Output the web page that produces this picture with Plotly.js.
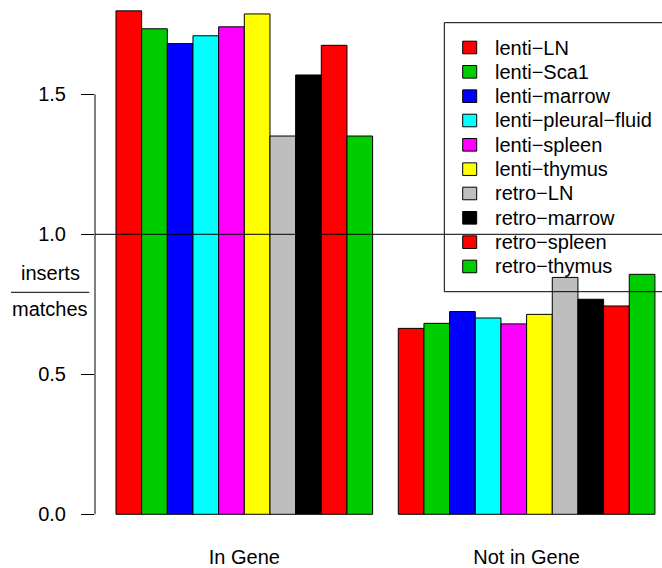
<!DOCTYPE html>
<html>
<head>
<meta charset="utf-8">
<script src="https://cdn.plot.ly/plotly-3.0.1.min.js"></script>
<style>
  html, body { margin: 0; padding: 0; background: #ffffff; }
  #chart { width: 662px; height: 568px; }
</style>
</head>
<body>
<div id="chart"></div>
<script>
// Ratio of inserts to matches, per vector/tissue library, split by gene overlap
const categories = ["In Gene", "Not in Gene"];
const seriesNames = [
  "lenti\u2212LN", "lenti\u2212Sca1", "lenti\u2212marrow", "lenti\u2212pleural\u2212fluid",
  "lenti\u2212spleen", "lenti\u2212thymus", "retro\u2212LN", "retro\u2212marrow",
  "retro\u2212spleen", "retro\u2212thymus"
];
const seriesColors = [
  "#FF0000", "#00CD00", "#0000FF", "#00FFFF", "#FF00FF",
  "#FFFF00", "#BEBEBE", "#000000", "#FF0000", "#00CD00"
];
const inGene    = [1.798, 1.734, 1.681, 1.709, 1.741, 1.787, 1.351, 1.569, 1.675, 1.351];
const notInGene = [0.664, 0.682, 0.724, 0.701, 0.680, 0.714, 0.846, 0.768, 0.744, 0.857];
const yTicks = [0, 0.5, 1.0, 1.5];
const referenceLevel = 1.0;

// Page geometry (pixels)
const W = 662, H = 568;
const M = { l: 95, r: 0, t: 0, b: 34 };
const plotW = W - M.l - M.r, plotH = H - M.t - M.b;
const px = p => (p - M.l) / plotW;          // pixel x -> paper x
const py = p => (H - M.b - p) / plotH;      // pixel y -> paper y

const FONT = "Liberation Sans, Arial, Helvetica, sans-serif";

const traces = seriesNames.map((name, i) => ({
  type: "bar",
  name: name,
  x: categories,
  y: [inGene[i], notInGene[i]],
  marker: { color: seriesColors[i], line: { color: "#000000", width: 1 } },
  showlegend: false,
  hoverinfo: "skip"
}));

const shapes = [];
const annotations = [];

// y axis line spanning the labelled ticks only
shapes.push({
  type: "line", xref: "paper", yref: "y",
  x0: 0, x1: 0, y0: yTicks[0], y1: yTicks[yTicks.length - 1],
  line: { color: "#000000", width: 1 }
});

// horizontal reference line at ratio 1
shapes.push({
  type: "line", xref: "paper", yref: "y", layer: "above",
  x0: 0, x1: 1, y0: referenceLevel, y1: referenceLevel,
  line: { color: "#000000", width: 1 }
});

// legend: open box on the right, swatch + label per series
shapes.push({
  type: "rect", xref: "paper", yref: "paper", layer: "above",
  x0: px(444.3), x1: px(720), y0: py(291.7), y1: py(22.7),
  line: { color: "#000000", width: 1 }, fillcolor: "rgba(0,0,0,0)"
});
const rowTop = 47.5, rowStep = 24.33;
seriesNames.forEach((name, i) => {
  const cy = rowTop + i * rowStep;
  shapes.push({
    type: "rect", xref: "paper", yref: "paper", layer: "above",
    x0: px(462.7), x1: px(476.7), y0: py(cy + 6.3), y1: py(cy - 6.3),
    line: { color: "#000000", width: 1 }, fillcolor: seriesColors[i]
  });
  annotations.push({
    xref: "paper", yref: "paper", x: px(493), y: py(cy),
    xanchor: "left", yanchor: "middle", showarrow: false,
    text: name, font: { family: FONT, size: 20, color: "#000000" }
  });
});

// y axis title drawn as a fraction
annotations.push({
  xref: "paper", yref: "paper", x: px(50), y: py(273),
  xanchor: "center", yanchor: "middle", showarrow: false,
  text: "inserts", font: { family: FONT, size: 20, color: "#000000" }
});
annotations.push({
  xref: "paper", yref: "paper", x: px(50), y: py(308.5),
  xanchor: "center", yanchor: "middle", showarrow: false,
  text: "matches", font: { family: FONT, size: 20, color: "#000000" }
});
shapes.push({
  type: "line", xref: "paper", yref: "paper",
  x0: px(11), x1: px(89.3), y0: py(292.3), y1: py(292.3),
  line: { color: "#000000", width: 1 }
});

const layout = {
  width: W, height: H,
  margin: M,
  paper_bgcolor: "#ffffff",
  plot_bgcolor: "#ffffff",
  barmode: "group",
  bargap: 1 / 11,
  bargroupgap: 0,
  showlegend: false,
  font: { family: FONT, size: 20, color: "#000000" },
  xaxis: {
    type: "category",
    range: [-0.5289, 1.4796],
    showgrid: false, zeroline: false, showline: false,
    ticks: "", ticklabelstandoff: 9,
    tickfont: { family: FONT, size: 20, color: "#000000" }
  },
  yaxis: {
    range: [-0.0704, 1.8368],
    tickvals: yTicks,
    tickformat: ".1f",
    showgrid: false, zeroline: false, showline: false,
    ticks: "outside", ticklen: 13, tickwidth: 1, tickcolor: "#000000",
    ticklabelstandoff: 11,
    tickfont: { family: FONT, size: 20, color: "#000000" }
  },
  shapes: shapes,
  annotations: annotations
};

Plotly.newPlot("chart", traces, layout, { displayModeBar: false, staticPlot: true });
</script>
</body>
</html>
